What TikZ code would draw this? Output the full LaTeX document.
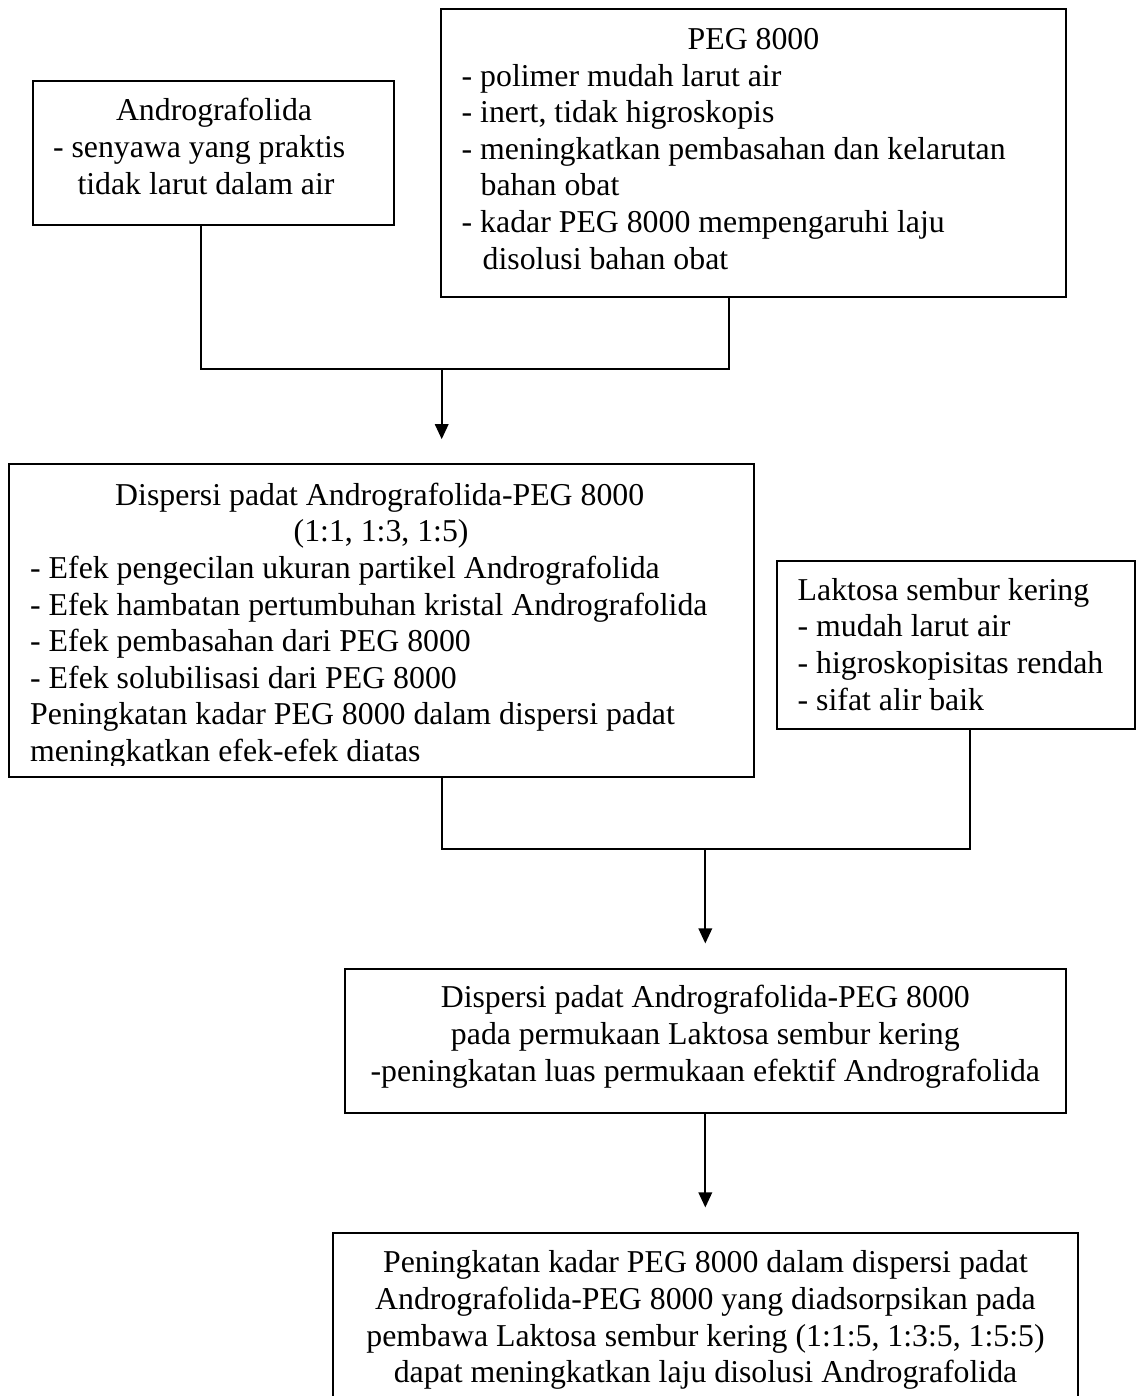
\documentclass[tikz,border=0pt]{standalone}
\usepackage{fontspec}
\setmainfont{Liberation Serif}
\usetikzlibrary{arrows.meta,calc}
\newcommand{\diafont}{\fontsize{31.8}{36.6}\selectfont}
\begin{document}
\begin{tikzpicture}[x=1pt,y=-1pt,
  box/.style={draw, line width=1.7pt, inner sep=0pt, rectangle},
  txt/.style={inner sep=0pt, font=\diafont},
  conn/.style={line width=1.7pt},
  arr/.style={conn, -{Triangle[width=13.5pt,length=15pt]}}]
\useasboundingbox (0,0) rectangle (1136,1396);
\clip (0,0) rectangle (1136,1396);

% boxes
\node[box, minimum width=361pt, minimum height=144.3pt] (andro) at (213.2,152.85) {};
\node[box, minimum width=624.7pt, minimum height=287.7pt] (peg) at (753.35,152.85) {};
\node[box, minimum width=744.7pt, minimum height=312.4pt] (disp) at (381.35,620.5) {};
\node[box, minimum width=357.5pt, minimum height=168.3pt] (lak) at (956.05,644.85) {};
\node[box, minimum width=720.4pt, minimum height=144.3pt] (box5) at (705.5,1041.15) {};
\node[box, minimum width=745pt, minimum height=196.7pt] (box6) at (705.5,1331.65) {};

% texts
\node[txt, anchor=north west, align=left] (androtxt) at (52.8,95.08)
  {\hspace*{63pt}\strut Andrografolida\\- senyawa yang praktis\\\hspace*{24.5pt}tidak larut dalam air};
\node[txt, anchor=north west, align=left] (pegtxt) at (461.5,23.68)
  {\hspace*{226pt}\strut PEG 8000\\- polimer mudah larut air\\- inert, tidak higroskopis\\- meningkatkan pembasahan dan kelarutan\\\hspace*{19pt}bahan obat\\- kadar PEG 8000 mempengaruhi laju\\\hspace*{21pt}disolusi bahan obat};
\begin{scope}
\clip (0,464.3) rectangle (760,765);
\node[txt, anchor=north west, align=left] (disptxt) at (30,479.38)
  {\hspace*{85pt}\strut Dispersi padat Andrografolida-PEG 8000\\\hspace*{263.5pt}(1:1, 1:3, 1:5)\\- Efek pengecilan ukuran partikel Andrografolida\\- Efek hambatan pertumbuhan kristal Andrografolida\\- Efek pembasahan dari PEG 8000\\- Efek solubilisasi dari PEG 8000\\Peningkatan kadar PEG 8000 dalam dispersi padat\\meningkatkan efek-efek diatas};
\end{scope}
\node[txt, anchor=north west, align=left] (laktxt) at (797.5,574.38)
  {\strut Laktosa sembur kering\\- mudah larut air\\- higroskopisitas rendah\\- sifat alir baik};
\node[txt, anchor=north, align=center] (box5txt) at (705.3,982.08)
  {\strut Dispersi padat Andrografolida-PEG 8000\\pada permukaan Laktosa sembur kering\\-peningkatan luas permukaan efektif Andrografolida};
\node[txt, anchor=north, align=center] (box6txt) at (705.5,1247.08)
  {\strut Peningkatan kadar PEG 8000 dalam dispersi padat\\Andrografolida-PEG 8000 yang diadsorpsikan pada\\pembawa Laktosa sembur kering (1:1:5, 1:3:5, 1:5:5)\\dapat meningkatkan laju disolusi Andrografolida};

% connectors
\coordinate (j1) at (201,369);
\coordinate (j2) at (729.3,369);
\coordinate (m1) at (441.7,369);
\draw[conn] (andro.south -| j1) -- (j1) -- (j2) -- (peg.south -| j2);
\draw[arr, shorten >=24.3pt] (m1) -- (disp.north -| m1);

\coordinate (j3) at (441.7,849);
\coordinate (j4) at (969.7,849);
\coordinate (m2) at (705.3,849);
\draw[conn] (disp.south -| j3) -- (j3) -- (j4) -- (lak.south -| j4);
\draw[arr, shorten >=24.7pt] (m2) -- (box5.north -| m2);
\draw[arr, shorten >=25pt] (box5.south -| m2) -- (box6.north -| m2);
\end{tikzpicture}
\end{document}
